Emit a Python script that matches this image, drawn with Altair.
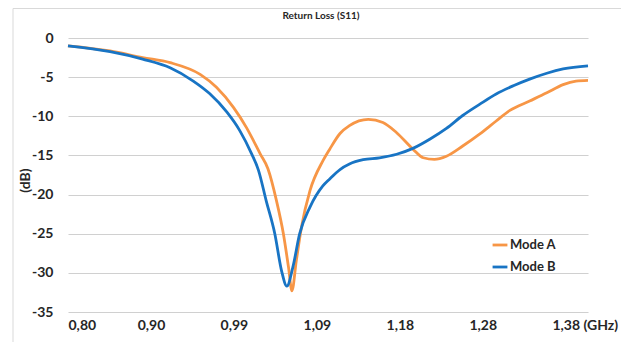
import altair as alt
import pandas as pd

# ---- data ----
freq_a = [0.800, 0.849, 0.887, 0.919, 0.954, 0.973, 0.993, 1.008, 1.024, 1.033,
          1.043, 1.051, 1.057, 1.061, 1.066, 1.072, 1.082, 1.097, 1.105, 1.117, 1.128,
          1.150, 1.167, 1.183, 1.202, 1.214, 1.227, 1.241, 1.260, 1.280, 1.299, 1.315,
          1.338, 1.358, 1.377, 1.392, 1.406]
db_a = [-1.0, -1.65, -2.5, -3.15, -4.65, -6.3, -8.9, -11.45, -14.8, -16.7,
        -20.8, -25.0, -29.3, -32.3, -28.5, -24.2, -19.5, -15.7, -14.2, -12.2, -11.2,
        -10.4, -10.8, -12.1, -14.2, -15.3, -15.5, -15.1, -13.8, -12.25, -10.6, -9.25,
        -8.05, -7.0, -5.95, -5.5, -5.4]

freq_b = [0.800, 0.849, 0.887, 0.919, 0.946, 0.965, 0.985, 1.000, 1.014,
          1.022, 1.031, 1.041, 1.049, 1.055, 1.062, 1.070, 1.082, 1.097, 1.105, 1.117,
          1.128, 1.144, 1.163, 1.183, 1.202, 1.222, 1.241, 1.260, 1.280, 1.299, 1.319,
          1.338, 1.358, 1.377, 1.406]
db_b = [-1.0, -1.75, -2.7, -3.8, -5.5, -7.1, -9.45, -11.8, -14.8,
        -16.9, -20.8, -25.0, -29.8, -31.7, -29.3, -25.0, -21.6, -18.9, -18.0, -16.8,
        -16.1, -15.55, -15.3, -14.85, -14.1, -12.9, -11.55, -9.9, -8.45, -7.15, -6.1,
        -5.25, -4.5, -3.95, -3.55]

series_names = ["Mode A", "Mode B"]
series_colors = ["#F79646", "#1874C4"]

x_tick_values = [0.80, 0.8967, 0.9933, 1.09, 1.1867, 1.2833, 1.38]
x_tick_labels = ["0,80", "0,90", "0,99", "1,09", "1,18", "1,28", "1,38"]
y_tick_values = [0, -5, -10, -15, -20, -25, -30, -35]

df = pd.concat([
    pd.DataFrame({"f": freq_a, "db": db_a, "mode": series_names[0]}),
    pd.DataFrame({"f": freq_b, "db": db_b, "mode": series_names[1]}),
])

label_list = "[" + ",".join("'" + s + "'" for s in x_tick_labels) + "]"
x_label_expr = label_list + "[round((datum.value - 0.8) / 0.096667)]"

FONT = "Lato"

lines = alt.Chart(df).mark_line(strokeWidth=2.8, interpolate="monotone").encode(
    x=alt.X("f:Q",
            scale=alt.Scale(domain=[0.8, 1.406], nice=False, zero=False),
            axis=alt.Axis(values=x_tick_values, labelExpr=x_label_expr,
                          grid=False, domain=False, ticks=False,
                          labelPadding=6, labelFontSize=14, labelFont=FONT,
                          labelFontWeight="bold", labelColor="#262626",
                          title="(GHz)", titleFont=FONT, titleFontSize=14,
                          titleFontWeight="bold", titleColor="#262626",
                          titleAnchor="start", titleAlign="left",
                          titleX=515, titleY=13, titleBaseline="middle")),
    y=alt.Y("db:Q",
            scale=alt.Scale(domain=[-35, 0], nice=False, zero=False),
            axis=alt.Axis(values=y_tick_values,
                          labelExpr="datum.value == 0 ? '0' : '-' + abs(datum.value)",
                          grid=True, gridColor="#d0d0d0", gridWidth=1.2,
                          domain=False, ticks=False, labelPadding=15,
                          labelFontSize=14, labelFont=FONT, labelFontWeight="bold",
                          labelColor="#262626",
                          title="(dB)", titleFont=FONT, titleFontSize=14,
                          titleFontWeight="bold", titleColor="#262626",
                          titleX=-43, titleY=142, titleAngle=270,
                          titleAlign="center", titleBaseline="middle")),
    color=alt.Color("mode:N",
                    scale=alt.Scale(domain=series_names, range=series_colors),
                    legend=alt.Legend(title=None, orient="none", legendX=423, legendY=198,
                                      symbolType="stroke", symbolSize=220,
                                      symbolStrokeWidth=2.8, labelFont=FONT,
                                      labelFontSize=13, labelFontWeight="bold",
                                      labelColor="#262626", labelOffset=1,
                                      rowPadding=6)),
)

border = alt.Chart(pd.DataFrame({"k": [0]})).mark_rule(color="#d9d9d9", strokeWidth=1).encode(
    x=alt.value(-55), y=alt.value(-29.5), y2=alt.value(340)
)
border_top = alt.Chart(pd.DataFrame({"k": [0]})).mark_rule(color="#d9d9d9", strokeWidth=1).encode(
    x=alt.value(-55), x2=alt.value(560), y=alt.value(-29.5)
)

chart = alt.layer(border, border_top, lines).properties(
    width=520, height=274,
    title=alt.TitleParams("Return Loss (S11)", font=FONT, fontSize=10,
                          fontWeight="bold", color="#262626", anchor="middle",
                          offset=-13, dx=-7),
    autosize=alt.AutoSizeParams(type="none"),
    padding={"left": 60, "top": 30, "right": 33, "bottom": 30},
).configure_view(stroke=None)

chart.save("out.html", embed_options={"renderer": "svg", "actions": False})
